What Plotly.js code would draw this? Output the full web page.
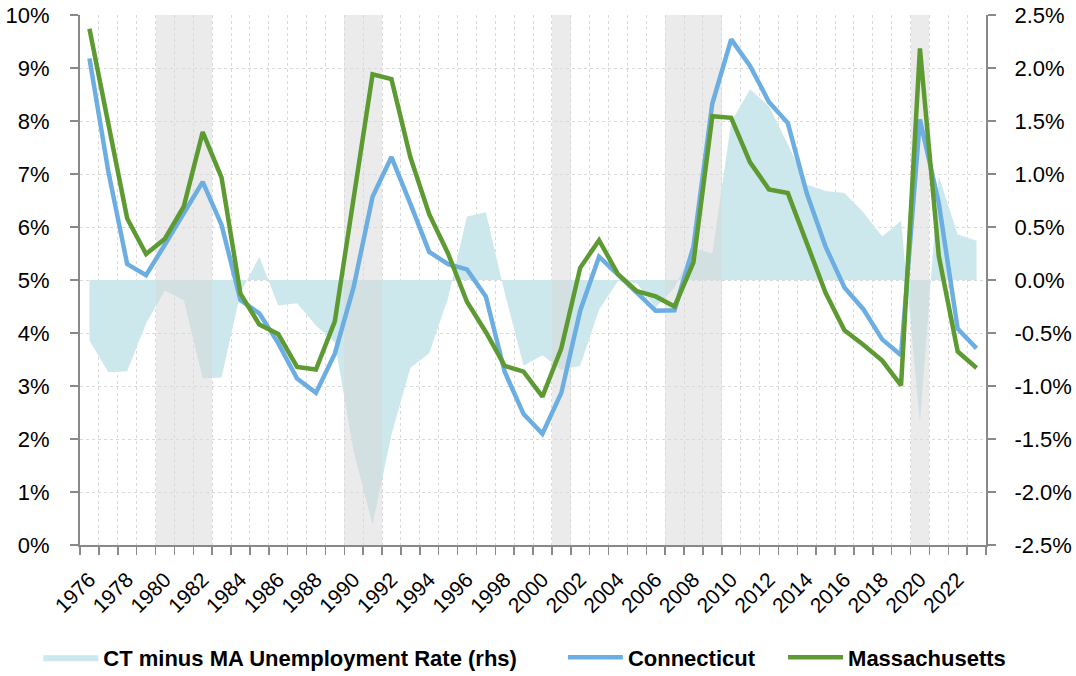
<!DOCTYPE html>
<html>
<head>
<meta charset="utf-8">
<script src="https://cdn.plot.ly/plotly-3.0.1.min.js"></script>
<style>html,body{margin:0;padding:0;background:#fff;}#chart{width:1076px;height:676px;}</style>
</head>
<body>
<div id="chart"></div>
<script>
const years = [1976,1977,1978,1979,1980,1981,1982,1983,1984,1985,1986,1987,1988,1989,1990,1991,1992,1993,1994,1995,1996,1997,1998,1999,2000,2001,2002,2003,2004,2005,2006,2007,2008,2009,2010,2011,2012,2013,2014,2015,2016,2017,2018,2019,2020,2021,2022,2023];

const connecticut = [9.18,7.05,5.30,5.09,5.67,6.24,6.85,6.04,4.62,4.37,3.81,3.14,2.87,3.61,4.87,6.57,7.32,6.44,5.53,5.30,5.20,4.69,3.27,2.47,2.10,2.87,4.42,5.44,5.11,4.76,4.42,4.43,5.63,8.33,9.54,9.04,8.36,7.96,6.64,5.63,4.86,4.45,3.88,3.58,8.03,6.45,4.08,3.71];

const massachusetts = [9.74,7.92,6.16,5.49,5.78,6.39,7.79,6.93,4.74,4.16,3.98,3.36,3.31,4.22,6.55,8.88,8.79,7.32,6.24,5.50,4.59,4.02,3.38,3.27,2.80,3.71,5.23,5.75,5.11,4.79,4.69,4.50,5.33,8.09,8.06,7.22,6.71,6.64,5.70,4.76,4.05,3.78,3.48,3.01,9.37,5.45,3.65,3.34];

const ctMinusMa = [-0.57,-0.87,-0.86,-0.41,-0.10,-0.19,-0.93,-0.92,-0.12,0.22,-0.24,-0.22,-0.43,-0.59,-1.62,-2.31,-1.46,-0.83,-0.69,-0.17,0.60,0.64,-0.12,-0.81,-0.71,-0.85,-0.81,-0.28,-0.01,-0.03,-0.26,-0.07,0.30,0.25,1.49,1.80,1.64,1.28,0.90,0.84,0.82,0.64,0.41,0.56,-1.35,0.98,0.43,0.37];

const recessionYears = [1980,1981,1982,1990,1991,2001,2007,2008,2009,2020];
const recessionFlag = [1,1,1,1,1,1,1,1,1,1];

const xTickYears = [1976,1978,1980,1982,1984,1986,1988,1990,1992,1994,1996,1998,2000,2002,2004,2006,2008,2010,2012,2014,2016,2018,2020,2022];
const xTickLabels = ['1976','1978','1980','1982','1984','1986','1988','1990','1992','1994','1996','1998','2000','2002','2004','2006','2008','2010','2012','2014','2016','2018','2020','2022'];
const leftTickVals = [0,1,2,3,4,5,6,7,8,9,10];
const leftTickLabels = ['0%','1%','2%','3%','4%','5%','6%','7%','8%','9%','10%'];
const rightTickVals = [-2.5,-2.0,-1.5,-1.0,-0.5,0,0.5,1.0,1.5,2.0,2.5];
const rightTickLabels = ['-2.5%','-2.0%','-1.5%','-1.0%','-0.5%','0.0%','0.5%','1.0%','1.5%','2.0%','2.5%'];

const FONT = 'Liberation Sans, Arial, sans-serif';
const AXIS_GRAY = '#898989';
const GRID = '#d9d9d9';

const traces = [
  {
    type: 'scatter', mode: 'lines', name: 'CT minus MA Unemployment Rate (rhs)',
    x: years, y: ctMinusMa, xaxis: 'x', yaxis: 'y',
    fill: 'tozeroy', fillcolor: 'rgb(205,232,236)',
    line: {width: 0, color: 'rgb(205,232,236)'},
    legend: 'legend', hoverinfo: 'skip'
  },
  {
    type: 'bar', x: recessionYears, y: recessionFlag, width: 1,
    xaxis: 'x', yaxis: 'y2',
    marker: {color: 'rgba(216,216,216,0.52)', line: {width: 0}},
    showlegend: false, hoverinfo: 'skip'
  },
  {
    type: 'scatter', mode: 'lines', name: 'Connecticut',
    x: years, y: connecticut, xaxis: 'x', yaxis: 'y3',
    line: {color: '#6CAEE2', width: 4.5},
    legend: 'legend2'
  },
  {
    type: 'scatter', mode: 'lines', name: 'Massachusetts',
    x: years, y: massachusetts, xaxis: 'x', yaxis: 'y3',
    line: {color: '#5E9A32', width: 4.5},
    legend: 'legend3'
  }
];

const legendBase = {
  orientation: 'h', yanchor: 'middle', xanchor: 'left', y: -0.212,
  font: {family: FONT, size: 22, color: '#000', weight: 'bold'},
  bgcolor: 'rgba(0,0,0,0)', itemwidth: 55, borderwidth: 0
};

const layout = {
  width: 1076, height: 676,
  margin: {l: 80, r: 90, t: 15, b: 131, autoexpand: false},
  paper_bgcolor: '#fff', plot_bgcolor: '#fff',
  font: {family: FONT, size: 22, color: '#000'},
  showlegend: true,
  bargap: 0,
  xaxis: {
    type: 'linear', range: [1975.5, 2023.5],
    tickmode: 'array', tickvals: xTickYears, ticktext: xTickLabels,
    tickangle: -45, ticks: '', showgrid: false, zeroline: false,
    showline: true, linecolor: AXIS_GRAY, linewidth: 2,
    tickfont: {family: FONT, size: 21, color: '#000'},
    ticklabelstandoff: 12,
    minor: {tick0: 1975.5, dtick: 1, ticks: 'outside', ticklen: 8, tickcolor: AXIS_GRAY, tickwidth: 1.5,
            showgrid: true, gridcolor: GRID, griddash: 'dot', gridwidth: 1}
  },
  yaxis: {
    side: 'right', range: [-2.5, 2.5],
    tickmode: 'array', tickvals: rightTickVals, ticktext: rightTickLabels,
    showline: true, linecolor: AXIS_GRAY, linewidth: 2,
    ticks: 'outside', ticklen: 8, tickcolor: AXIS_GRAY, tickwidth: 2,
    showgrid: true, gridcolor: GRID, griddash: 'dot', gridwidth: 1,
    zeroline: false, ticklabelstandoff: 14,
    tickfont: {family: FONT, size: 22, color: '#000'}
  },
  yaxis2: {
    overlaying: 'y', range: [0, 1], visible: false, showgrid: false, zeroline: false
  },
  yaxis3: {
    overlaying: 'y', side: 'left', range: [0, 10],
    tickmode: 'array', tickvals: leftTickVals, ticktext: leftTickLabels,
    showline: true, linecolor: AXIS_GRAY, linewidth: 2,
    ticks: 'outside', ticklen: 8, tickcolor: AXIS_GRAY, tickwidth: 2,
    showgrid: false, zeroline: false, ticklabelstandoff: 16,
    tickfont: {family: FONT, size: 22, color: '#000'}
  },
  legend: Object.assign({}, legendBase, {x: -0.046}),
  legend2: Object.assign({}, legendBase, {x: 0.533}),
  legend3: Object.assign({}, legendBase, {x: 0.776})
};

Plotly.newPlot('chart', traces, layout, {displayModeBar: false, staticPlot: true});
</script>
</body>
</html>
